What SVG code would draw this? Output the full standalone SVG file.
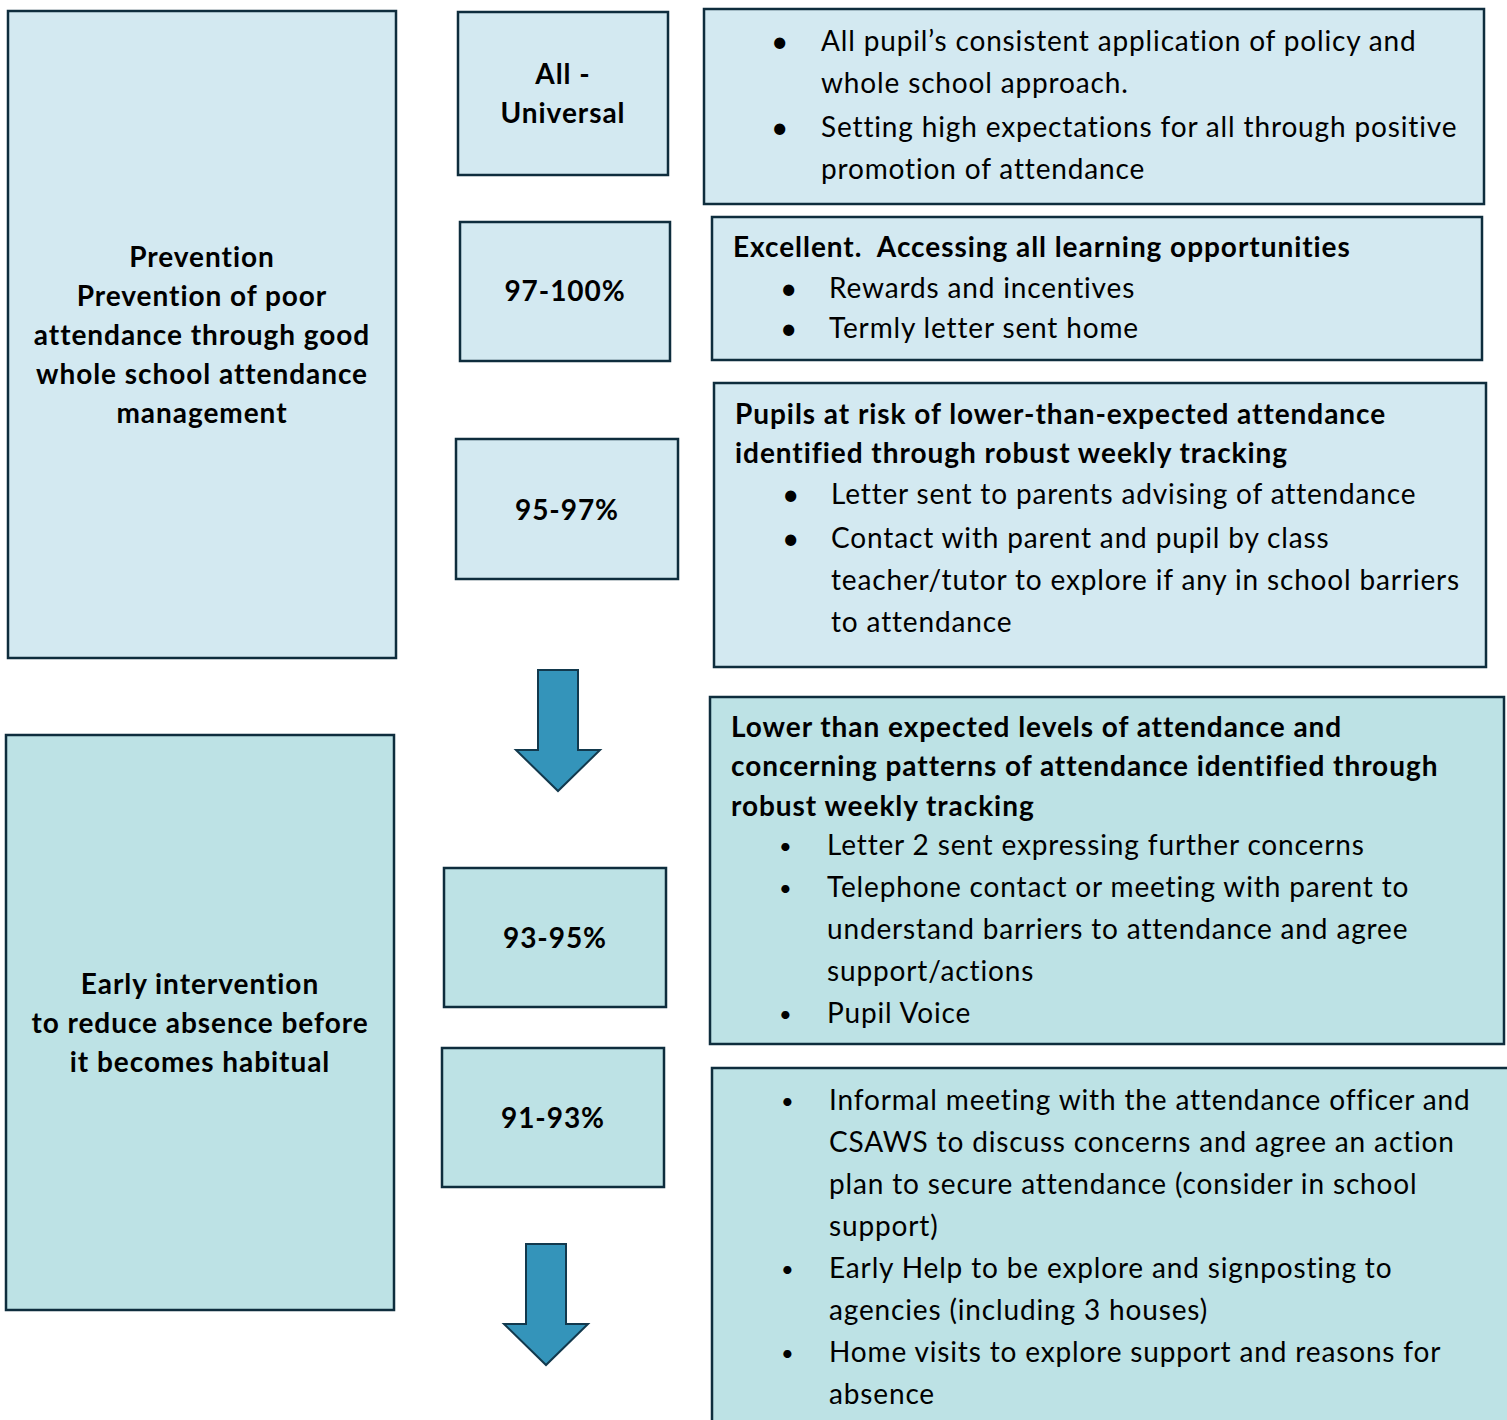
<svg xmlns="http://www.w3.org/2000/svg" width="1507" height="1420" viewBox="0 0 1507 1420">
<style>
.b1{fill:#D3E9F1;stroke:#0E2D3D;stroke-width:2.5}
.b2{fill:#BDE2E5;stroke:#0E2D3D;stroke-width:2.5}
.arr{fill:#3494BA;stroke:#12394D;stroke-width:2}
text{font-family:Lato,"Open Sans","Liberation Sans",sans-serif;font-size:28px;fill:#000;letter-spacing:0.85px}
.bd{font-weight:bold;letter-spacing:0.95px}
.c{text-anchor:middle}
.bl{font-size:30px;letter-spacing:0}
.bs{font-size:22px;letter-spacing:0}
</style>
<rect width="1507" height="1420" fill="#fff"/>
<g id="prevention">
<rect class="b1" x="8" y="11" width="388" height="647"/>
<text class="bd c" x="202" y="267">Prevention</text>
<text class="bd c" x="202" y="306">Prevention of poor</text>
<text class="bd c" x="202" y="345">attendance through good</text>
<text class="bd c" x="202" y="384">whole school attendance</text>
<text class="bd c" x="202" y="423">management</text>
</g>
<g id="universal">
<rect class="b1" x="458" y="12" width="210" height="163"/>
<text class="bd c" x="563" y="84">All -</text>
<text class="bd c" x="563" y="123">Universal</text>
</g>
<g id="universal-actions">
<rect class="b1" x="704" y="9" width="780" height="195"/>
<text class="bl" x="771" y="52">•</text>
<text x="821" y="51">All pupil’s consistent application of policy and</text>
<text x="821" y="93">whole school approach.</text>
<text class="bl" x="771" y="138">•</text>
<text x="821" y="137">Setting high expectations for all through positive</text>
<text x="821" y="179">promotion of attendance</text>
</g>
<g id="band-97-100">
<rect class="b1" x="460" y="222" width="210" height="139"/>
<text class="bd c" x="565" y="301">97-100%</text>
</g>
<g id="band-97-100-actions">
<rect class="b1" x="712" y="217" width="770" height="143"/>
<text class="bd" x="733" y="257">Excellent.&#160; Accessing all learning opportunities</text>
<text class="bl" x="780" y="299">•</text>
<text x="829" y="298">Rewards and incentives</text>
<text class="bl" x="780" y="339">•</text>
<text x="829" y="338">Termly letter sent home</text>
</g>
<g id="band-95-97">
<rect class="b1" x="456" y="439" width="222" height="140"/>
<text class="bd c" x="567" y="520">95-97%</text>
</g>
<g id="band-95-97-actions">
<rect class="b1" x="714" y="383" width="772" height="284"/>
<text class="bd" x="735" y="424">Pupils at risk of lower-than-expected attendance</text>
<text class="bd" x="735" y="463">identified through robust weekly tracking</text>
<text class="bl" x="782" y="505">•</text>
<text x="831" y="504">Letter sent to parents advising of attendance</text>
<text class="bl" x="782" y="549">•</text>
<text x="831" y="548">Contact with parent and pupil by class</text>
<text x="831" y="590">teacher/tutor to explore if any in school barriers</text>
<text x="831" y="632">to attendance</text>
</g>
<g id="early-intervention">
<rect class="b2" x="6" y="735" width="388" height="575"/>
<text class="bd c" x="200" y="994">Early intervention</text>
<text class="bd c" x="200" y="1033">to reduce absence before</text>
<text class="bd c" x="200" y="1072">it becomes habitual</text>
</g>
<g id="band-93-95">
<rect class="b2" x="444" y="868" width="222" height="139"/>
<text class="bd c" x="555" y="948">93-95%</text>
</g>
<g id="band-93-95-actions">
<rect class="b2" x="710" y="697" width="794" height="347"/>
<text class="bd" x="731" y="737">Lower than expected levels of attendance and</text>
<text class="bd" x="731" y="776">concerning patterns of attendance identified through</text>
<text class="bd" x="731" y="816">robust weekly tracking</text>
<text class="bs" x="779" y="854">•</text>
<text x="827" y="855">Letter 2 sent expressing further concerns</text>
<text class="bs" x="779" y="896">•</text>
<text x="827" y="897">Telephone contact or meeting with parent to</text>
<text x="827" y="939">understand barriers to attendance and agree</text>
<text x="827" y="981">support/actions</text>
<text class="bs" x="779" y="1022">•</text>
<text x="827" y="1023">Pupil Voice</text>
</g>
<g id="band-91-93">
<rect class="b2" x="442" y="1048" width="222" height="139"/>
<text class="bd c" x="553" y="1128">91-93%</text>
</g>
<g id="band-91-93-actions">
<rect class="b2" x="712" y="1068" width="810" height="380"/>
<text class="bs" x="781" y="1109">•</text>
<text x="829" y="1110">Informal meeting with the attendance officer and</text>
<text x="829" y="1152">CSAWS to discuss concerns and agree an action</text>
<text x="829" y="1194">plan to secure attendance (consider in school</text>
<text x="829" y="1236">support)</text>
<text class="bs" x="781" y="1277">•</text>
<text x="829" y="1278">Early Help to be explore and signposting to</text>
<text x="829" y="1320">agencies (including 3 houses)</text>
<text class="bs" x="781" y="1361">•</text>
<text x="829" y="1362">Home visits to explore support and reasons for</text>
<text x="829" y="1404">absence</text>
</g>
<g id="connectors">
<path class="arr" d="M538 670 H578 V750 H600 L558 791 L516 750 H538 Z"/>
<path class="arr" d="M526 1244 H566 V1324 H588 L546 1365 L504 1324 H526 Z"/>
</g>
</svg>
